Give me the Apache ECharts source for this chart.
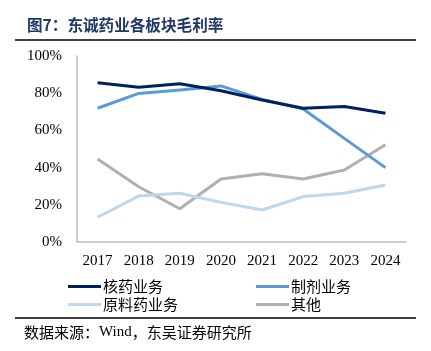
<!DOCTYPE html>
<html>
<head>
<meta charset="utf-8">
<script src="https://cdn.jsdelivr.net/npm/echarts@6/dist/echarts.min.js"></script>
<style>
    html, body {margin: 0; padding: 0; background: #fff;}
    #chart {width: 431px; height: 351px;}
</style>
</head>
<body>
<div id="chart"></div>
<script>
// 年份
var years = ['2017', '2018', '2019', '2020', '2021', '2022', '2023', '2024'];
// 各板块毛利率(%)
var hexiao = [85.6, 83.2, 85.1, 81.3, 76.3, 71.9, 72.8, 69.2];
var zhiji = [71.9, 79.9, 81.7, 83.9, 76.7, 71.5, 55.7, 40.0];
var yuanliao = [13.3, 24.7, 26.2, 21.3, 17.2, 24.4, 26.2, 30.6];
var qita = [44.6, 29.7, 17.9, 33.9, 36.7, 33.9, 38.7, 52.3];

var names = ['核药业务', '制剂业务', '原料药业务', '其他'];
var colors = ['#002060', '#5b9bd5', '#bdd7ee', '#b0b0b0'];
var values = [hexiao, zhiji, yuanliao, qita];

var chart = echarts.init(document.getElementById('chart'));

var serif = '"Liberation Serif", "Times New Roman", serif';
var cjk = '"Noto Sans CJK SC", sans-serif';

//图例位置
var legendPos = [[63, 274], [251, 274], [63, 292], [251, 292]];

chart.setOption({
    animation: false,
    title: {
        text: '图7：东诚药业各板块毛利率',
        left: 22,
        top: 12,
        textStyle: {fontFamily: cjk, fontSize: 15.6, fontWeight: 'bold', color: '#1f3864'}
    },
    graphic: [
        {type: 'line', shape: {x1: 15, y1: 40, x2: 416, y2: 40}, style: {stroke: '#000', lineWidth: 1.5}},
        {type: 'line', shape: {x1: 15, y1: 318, x2: 416, y2: 318}, style: {stroke: '#000', lineWidth: 1.5}},
        {
            type: 'text', left: 24, top: 325,
            style: {
                text: '{a|数据来源：}{b|Wind}{a|，东吴证券研究所}',
                rich: {
                    a: {fontFamily: cjk, fontSize: 15, fill: '#000'},
                    b: {fontFamily: serif, fontSize: 15, fill: '#000'}
                }
            }
        }
    ],
    legend: names.map(function (n, i) {
        return {
            data: [n],
            left: legendPos[i][0],
            top: legendPos[i][1],
            icon: 'rect',
            itemWidth: 33,
            itemHeight: 3,
            textStyle: {fontFamily: cjk, fontSize: 15, color: '#000', padding: [0, 0, 0, -3]}
        };
    }),
    grid: {left: 77, right: 25, top: 56, bottom: 109, containLabel: false},
    xAxis: {
        type: 'category',
        data: years,
        boundaryGap: true,
        axisLine: {lineStyle: {color: '#bfbfbf', width: 1.5}},
        axisTick: {show: false},
        axisLabel: {fontFamily: serif, fontSize: 15, color: '#000', margin: 12}
    },
    yAxis: {
        type: 'value',
        min: 0,
        max: 100,
        interval: 20,
        axisLine: {show: true, lineStyle: {color: '#bfbfbf', width: 1.5}},
        axisTick: {show: false},
        splitLine: {show: false},
        axisLabel: {formatter: '{value}%', fontFamily: serif, fontSize: 15, color: '#000', margin: 15}
    },
    series: names.map(function (n, i) {
        return {
            name: n,
            type: 'line',
            data: values[i],
            symbol: 'none',
            color: colors[i],
            lineStyle: {width: 3, color: colors[i]},
            z: 10 - i
        };
    })
});
</script>
</body>
</html>
